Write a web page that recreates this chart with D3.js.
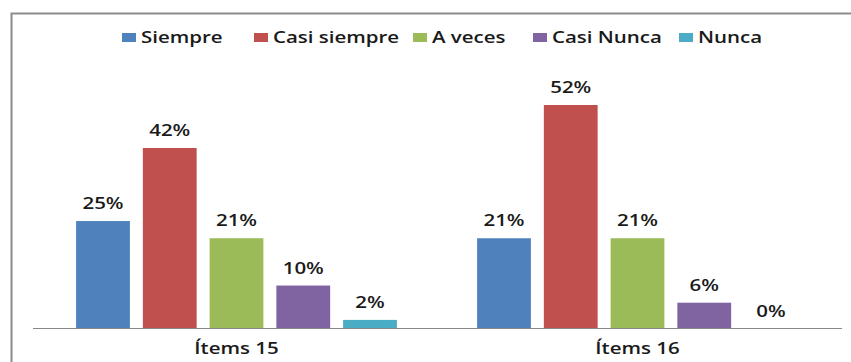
<!DOCTYPE html>
<html>
<head>
<meta charset="utf-8">
<script src="https://cdn.jsdelivr.net/npm/d3@7"></script>
<style>
  body { margin: 0; background: #fff; }
  text { font-family: "Open Sans", Lato, sans-serif; font-weight: 600; fill: #1a1a1a; }
</style>
</head>
<body>
<svg id="chart" width="851" height="362"></svg>
<script>
// data
const categories = ["Ítems 15", "Ítems 16"]
const series = ["Siempre", "Casi siempre", "A veces", "Casi Nunca", "Nunca"]
const colors = ["#4f81bd", "#c0504d", "#9bbb59", "#8064a2", "#4bacc6"]
const items15 = [25, 42, 21, 10, 2]
const items16 = [21, 52, 21, 6, 0]
const values = [items15, items16]

const svg = d3.select("#chart")
const W = 851, H = 362
// the source picture is stretched sideways, so text is too
const SX = 1.28

// outer frame (top + left only visible)
svg.append("path")
  .attr("d", `M11.5,${H} V13.5 H${W}`)
  .attr("fill", "none")
  .attr("stroke", "#8c8c8c")
  .attr("stroke-width", 2)

const plot = { left: 36, right: 838, base: 328.5 }

const x0 = d3.scaleBand()
  .domain(categories)
  .range([plot.left, plot.right])
  .paddingInner(0.2)
  .paddingOuter(0.1)

// bars inside each group: 54px wide with 13px gaps
const x1 = d3.scaleBand()
  .domain(series)
  .range([0, x0.bandwidth()])
  .paddingInner(0.194)
  .paddingOuter(0)

const y = d3.scaleLinear()
  .domain([0, 52])
  .range([plot.base, 105])

const rows = []
categories.forEach((c, i) => {
  series.forEach((s, j) => {
    rows.push({cat: c, ser: s, val: values[i][j], color: colors[j]})
  })
})

const g = svg.append("g")

g.selectAll("rect.bar")
  .data(rows)
  .join("rect")
  .attr("class", "bar")
  .attr("x", (d) => x0(d.cat) + x1(d.ser))
  .attr("y", (d) => y(d.val))
  .attr("width", x1.bandwidth())
  .attr("height", (d) => plot.base - y(d.val))
  .attr("fill", (d) => d.color)

g.selectAll("text.lab")
  .data(rows)
  .join("text")
  .attr("class", "lab")
  .attr("transform", (d) =>
    `translate(${x0(d.cat) + x1(d.ser) + x1.bandwidth() / 2},${y(d.val) - 12}) scale(${SX},1)`)
  .attr("text-anchor", "middle")
  .attr("font-size", 16)
  .text((d) => d.val + "%")

// baseline
svg.append("line")
  .attr("x1", 33).attr("x2", 842)
  .attr("y1", plot.base).attr("y2", plot.base)
  .attr("stroke", "#888")
  .attr("stroke-width", 1.2)

// category labels
svg.selectAll("text.cat")
  .data(categories)
  .join("text")
  .attr("class", "cat")
  .attr("transform", (d) => `translate(${x0(d) + x0.bandwidth() / 2},354) scale(${SX},1)`)
  .attr("text-anchor", "middle")
  .attr("font-size", 16)
  .text((d) => d)

// legend
const legendX = [122, 254, 413, 533, 679]
const legend = svg.append("g")
series.forEach((s, i) => {
  legend.append("rect")
    .attr("x", legendX[i]).attr("y", 33)
    .attr("width", 14).attr("height", 9)
    .attr("fill", colors[i])
  legend.append("text")
    .attr("transform", `translate(${legendX[i] + 19},43) scale(${SX},1)`)
    .attr("font-size", 16)
    .text(s)
})
</script>
</body>
</html>
